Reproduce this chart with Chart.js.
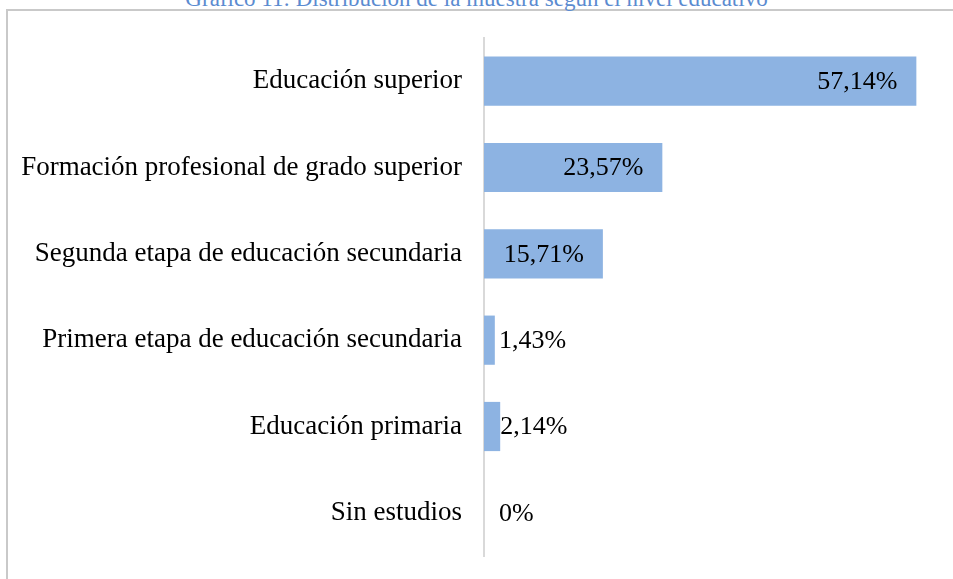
<!DOCTYPE html>
<html>
<head>
<meta charset="utf-8">
<script src="https://cdn.jsdelivr.net/npm/chart.js@4/dist/chart.umd.min.js"></script>
<style>
  html, body { margin: 0; padding: 0; background: #ffffff; }
  #wrap { position: relative; width: 953px; height: 579px; overflow: hidden; }
  #frame {
    position: absolute; left: 6px; top: 9px; width: 1000px; height: 620px;
    border-top: 2px solid #c9c9c9; border-left: 2px solid #c9c9c9;
  }
  #title {
    position: absolute; left: 0; width: 953px; top: -15px; text-align: center;
    font-family: "Liberation Serif", "Times New Roman", serif; font-size: 23px;
    color: #5b8bd0; white-space: nowrap; line-height: 28px;
  }
  canvas { position: absolute; left: 0; top: 0; }
</style>
</head>
<body>
<div id="wrap">
  <div id="frame"></div>
  <div id="title">Gráfico 11: Distribución de la muestra según el nivel educativo</div>
  <canvas id="c" width="953" height="579"></canvas>
</div>
<script>
const categories = [
  "Educación superior",
  "Formación profesional de grado superior",
  "Segunda etapa de educación secundaria",
  "Primera etapa de educación secundaria",
  "Educación primaria",
  "Sin estudios"
];
const percentages = [57.14, 23.57, 15.71, 1.43, 2.14, 0];
const valueLabels = ["57,14%", "23,57%", "15,71%", "1,43%", "2,14%", "0%"];

const FONT = '"Liberation Serif", "Times New Roman", serif';

// Value labels: inside the bar end when they fit, otherwise just past the axis
const barLabels = {
  id: 'barLabels',
  afterDatasetsDraw(chart) {
    const ctx = chart.ctx;
    const meta = chart.getDatasetMeta(0);
    const base = chart.scales.x.getPixelForValue(0);
    ctx.save();
    ctx.font = '26px ' + FONT;
    ctx.fillStyle = '#000000';
    ctx.textBaseline = 'middle';
    meta.data.forEach((bar, i) => {
      const txt = valueLabels[i];
      const w = ctx.measureText(txt).width;
      const barW = bar.x - base;
      if (w + 19 < barW) {
        ctx.textAlign = 'right';
        ctx.fillText(txt, bar.x - 19, bar.y + 1);
      } else {
        ctx.textAlign = 'left';
        ctx.fillText(txt, Math.max(bar.x, base + 15), bar.y + 1);
      }
    });
    ctx.restore();
  }
};

new Chart(document.getElementById('c'), {
  type: 'bar',
  data: {
    labels: categories,
    datasets: [{
      data: percentages,
      backgroundColor: '#8db3e2',
      borderWidth: 0,
      barPercentage: 1,
      categoryPercentage: 0.57
    }]
  },
  options: {
    indexAxis: 'y',
    responsive: false,
    animation: false,
    layout: { padding: { left: 0, right: 15, top: 38, bottom: 23 } },
    plugins: { legend: { display: false }, tooltip: { enabled: false }, title: { display: false } },
    scales: {
      x: { display: false, min: 0, max: 60 },
      y: {
        afterFit(scale) {
          scale.width = 484;
          scale.paddingTop = 0;
          scale.paddingBottom = 0;
        },
        grid: { display: false, drawTicks: false },
        border: { display: true, color: '#d9d9d9', width: 2 },
        ticks: { color: '#000000', padding: 22, font: { family: FONT, size: 27 } }
      }
    }
  },
  plugins: [barLabels]
});
</script>
</body>
</html>
